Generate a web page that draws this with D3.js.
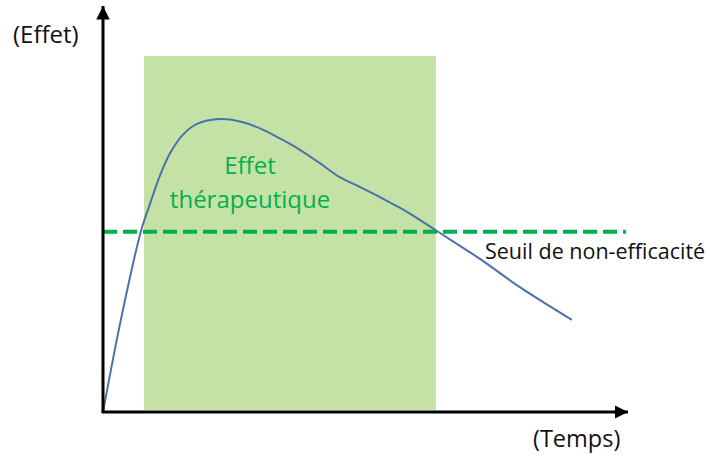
<!DOCTYPE html>
<meta charset="utf-8">
<style>
    body { margin: 0; background: #fff; }
    text { font-family: "Open Sans", sans-serif; }
</style>
<svg width="706" height="455"></svg>
<script src="https://d3js.org/d3.v7.min.js"></script>
<script>

    // courbe effet / temps (unités arbitraires)
    var temps = [0, 0.34, 0.72, 0.90, 1.09, 1.28, 1.52, 1.79, 2.23, 2.61, 2.99, 3.37, 3.75, 4.13, 4.50, 4.88, 5.26, 5.66, 6.04, 6.36, 7.18, 7.94, 8.93];
    var effet = [0, 2.28, 4.46, 5.17, 5.87, 6.41, 6.86, 7.13, 7.25, 7.19, 7.02, 6.77, 6.49, 6.16, 5.82, 5.58, 5.33, 5.05, 4.75, 4.48, 3.79, 3.09, 2.28];

    var seuil = 4.46;                 // seuil de non-efficacité
    var zoneTemps = [0.78, 6.34];     // zone d'effet thérapeutique
    var zoneHaut = 8.81;

    var svg = d3.select("svg");

    var x = d3.scaleLinear().domain([0, 10]).range([103, 628]);
    var y = d3.scaleLinear().domain([0, 10]).range([412, 8]);

    var defs = svg.append("defs");
    defs.append("marker")
        .attr("id", "arrow")
        .attr("viewBox", "0 0 10 10")
        .attr("refX", 10).attr("refY", 5)
        .attr("markerWidth", 4.5).attr("markerHeight", 4.5)
        .attr("markerUnits", "strokeWidth")
        .attr("orient", "auto")
        .append("path")
        .attr("d", "M0,0L10,5L0,10z")
        .attr("fill", "#000");

    // zone verte
    svg.append("rect")
        .attr("x", x(zoneTemps[0]))
        .attr("y", y(zoneHaut))
        .attr("width", x(zoneTemps[1]) - x(zoneTemps[0]))
        .attr("height", y(0) - y(zoneHaut) - 2)
        .attr("fill", "#c5e2a6");

    // seuil
    svg.append("line")
        .attr("x1", x(0)).attr("x2", x(9.96))
        .attr("y1", y(seuil)).attr("y2", y(seuil))
        .attr("stroke", "#00b050")
        .attr("stroke-width", 4)
        .attr("stroke-dasharray", "14,6");

    // courbe
    var line = d3.line()
        .x(function (d, i) { return x(temps[i]); })
        .y(function (d) { return y(d); })
        .curve(d3.curveCatmullRom.alpha(0.5));

    svg.append("path")
        .datum(effet)
        .attr("d", line)
        .attr("fill", "none")
        .attr("stroke", "#4a72aa")
        .attr("stroke-width", 2);

    // axes
    svg.append("line")
        .attr("x1", x(0)).attr("y1", y(0))
        .attr("x2", x(0)).attr("y2", y(10) - 2)
        .attr("stroke", "#000").attr("stroke-width", 3)
        .attr("marker-end", "url(#arrow)");

    svg.append("line")
        .attr("x1", x(0) - 1.5).attr("y1", y(0))
        .attr("x2", x(10)).attr("y2", y(0))
        .attr("stroke", "#000").attr("stroke-width", 3)
        .attr("marker-end", "url(#arrow)");

    // textes
    svg.append("text").attr("x", 13).attr("y", 43)
        .attr("font-size", 24).attr("fill", "#111").text("(Effet)");

    svg.append("text").attr("x", 533).attr("y", 447)
        .attr("font-size", 23.5).attr("fill", "#111").text("(Temps)");

    svg.append("text").attr("x", 485).attr("y", 259)
        .attr("font-size", 21.5).attr("fill", "#111").text("Seuil de non-efficacité");

    svg.append("text").attr("x", 250).attr("y", 174)
        .attr("text-anchor", "middle")
        .attr("font-size", 24).attr("fill", "#00b050").text("Effet");

    svg.append("text").attr("x", 250).attr("y", 208)
        .attr("text-anchor", "middle")
        .attr("font-size", 24).attr("fill", "#00b050").text("thérapeutique");

</script>
